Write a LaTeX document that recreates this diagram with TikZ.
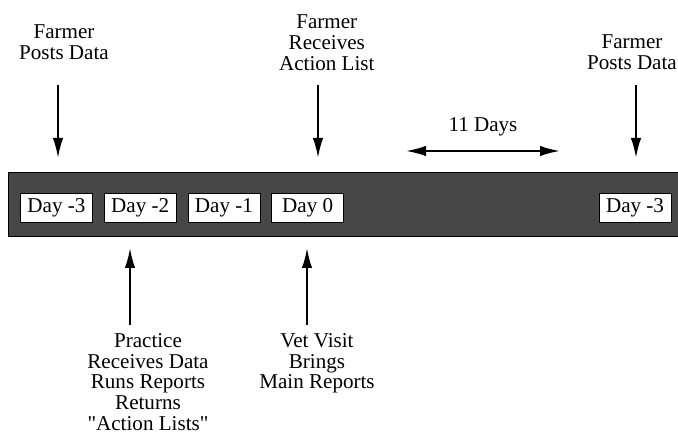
\documentclass[tikz,border=0pt]{standalone}
\usepackage{fontspec}
\setmainfont{Liberation Serif}
\usetikzlibrary{positioning,arrows.meta}
\definecolor{bandgray}{HTML}{474747}

\tikzset{
	daybox/.style={draw=black, thin, fill=white,
		minimum width=1.8cm, minimum height=0.725cm,
		inner sep=0pt, anchor=mid},
	label/.style={align=center, inner sep=0pt},
	arr/.style={line width=1.4pt, -{Latex[length=5mm,width=2.6mm]}},
	darr/.style={line width=1.4pt, {Latex[length=5mm,width=2.6mm]}-{Latex[length=5mm,width=2.6mm]}}
}

\begin{document}
\begin{tikzpicture}[font=\fontsize{15}{14.8}\selectfont]
		\useasboundingbox (0,0) rectangle (16.95,10.925);
		% band
		\fill [bandgray] (0.2,5.025) rectangle (17.3,6.625);
		\draw [thin] (17.3,5.025) -- (0.2,5.025) -- (0.2,6.625) -- (17.3,6.625);
		\coordinate (band) at (0.2,5.825);
		% day boxes
		\node[daybox] (d3) at (1.41,5.6875) {Day -3};
		\node[daybox, right=0.28cm of d3] (d2) {Day -2};
		\node[daybox, right=0.28cm of d2] (d1) {Day -1};
		\node[daybox, right=0.28cm of d1] (d0) {Day 0};
		\node[daybox] (d3b) at (15.875,5.6875) {Day -3};

		% farmer posts data
		\node[label] (post1) at (1.6,9.86) {Farmer\\Posts Data};
		\coordinate (top1) at (1.45,8.8);
		\draw [arr] (top1) -- ++(0,-1.825);
		% farmer receives list
		\node[label] (recv) at (8.17,9.86) {Farmer\\Receives\\Action List};
		\coordinate (top2) at (7.95,8.8);
		\draw [arr] (top2) -- ++(0,-1.825);
		% farmer posts data again
		\node[label] (post2) at (15.8,9.61) {Farmer\\Posts Data};
		\coordinate (top3) at (15.9,8.8);
		\draw [arr] (top3) -- ++(0,-1.825);

		% 11 days
		\coordinate (gapL) at (10.15,7.15);
		\coordinate (gapR) at (14.0,7.15);
		\draw [darr] (gapL) -- (gapR)
		node[midway,above=0.22cm]{11 Days};

		% practice
		\coordinate (bot1) at (3.25,2.8);
		\draw [arr] (bot1) -- ++(0,1.925);
		\node[label, anchor=north] (prac) at (3.7,2.6)
		{Practice\\Receives Data\\Runs Reports\\Returns\\\textquotedbl Action Lists\textquotedbl};
		% vet visit
		\coordinate (bot2) at (7.675,2.8);
		\draw [arr] (bot2) -- ++(0,1.925);
		\node[label, anchor=north] (vet) at (7.925,2.6)
		{Vet Visit\\Brings\\Main Reports};
\end{tikzpicture}
\end{document}
